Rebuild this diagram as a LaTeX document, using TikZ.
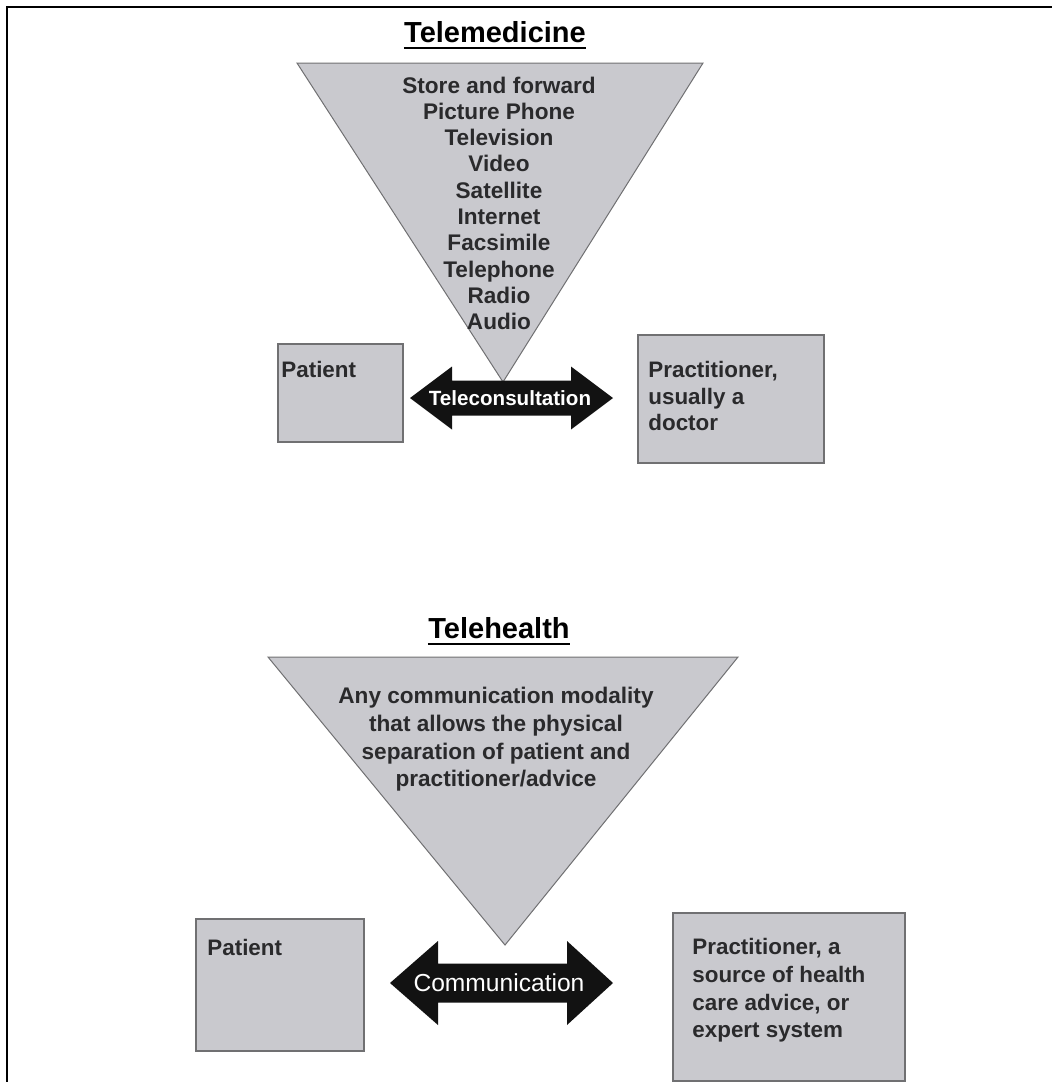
\documentclass[tikz,border=0pt]{standalone}
\usepackage{fontspec}
\setmainfont{Liberation Sans}
\usetikzlibrary{positioning}
\definecolor{panel}{RGB}{201,201,206}
\definecolor{edge}{RGB}{112,112,114}
\definecolor{ink}{RGB}{42,42,44}
\definecolor{arrowink}{RGB}{18,18,18}
\newcommand{\fsz}[2]{\fontsize{#1}{#2}\selectfont}
\tikzset{
  panelbox/.style={draw=edge, fill=panel, line width=0.9pt, inner sep=0pt, anchor=north west},
  wedge/.style={draw=edge, fill=panel, line width=0.5pt},
  boxtext/.style={inner sep=0pt, anchor=north west, align=left, text=ink, font=\bfseries\fsz{11.2}{13.3}},
  listtext/.style={inner sep=0pt, anchor=base, text=ink, font=\bfseries\fsz{11.3}{13.85}},
  heading/.style={inner sep=0pt, anchor=base, text=black, font=\bfseries\fsz{14.5}{17}},
  arrowtext/.style={inner sep=0pt, text=white},
  dblarrow/.style={fill=arrowink}
}

\begin{document}
\begin{tikzpicture}[x=0.5pt,y=-0.5pt]
\useasboundingbox (0,0) rectangle (1052,1082);
\draw[line width=1pt] (7,1082) -- (7,7) -- (1052,7);

% Telemedicine
\node[heading] (ttlA) at (495,42) {Telemedicine};
\draw[line width=0.9pt] ([yshift=-3pt]ttlA.base west) -- ([yshift=-3pt]ttlA.base east);
\coordinate (tAl) at (297,63);
\coordinate (tAr) at (703,63);
\coordinate (tAt) at (503,382);
\draw[wedge] (tAl) -- (tAr) -- (tAt) -- cycle;
\foreach \medium [count=\i from 0] in {Store and forward, Picture Phone, Television, Video, Satellite, Internet, Facsimile, Telephone, Radio, Audio}
  \node[listtext] (mod\i) at (499,{93+26.3*\i}) {\medium};

\node[panelbox, minimum width=62.5pt, minimum height=49pt] (patA) at (277,343) {};
\node[panelbox, minimum width=93pt, minimum height=64pt] (pracA) at (637,334) {};
\node[boxtext, anchor=base west] (patAtxt) at ([xshift=2pt,yshift=-17pt]patA.north west) {Patient};
\node[boxtext] (pracAtxt) at ([xshift=5.5pt,yshift=-13.5pt]pracA.north west) {Practitioner,\\usually a\\doctor};

\fill[dblarrow] (410,398) -- (452,366.5) -- (452,380.5) -- (571,380.5) -- (571,366.5) -- (613,398)
  -- (571,429.5) -- (571,415.5) -- (452,415.5) -- (452,429.5) -- cycle;
\node[arrowtext, font=\bfseries\fsz{10.3}{12}] (tcon) at (510,398) {Teleconsultation};

% Telehealth
\node[heading] (ttlB) at (499,638) {Telehealth};
\draw[line width=0.9pt] ([yshift=-3pt]ttlB.base west) -- ([yshift=-3pt]ttlB.base east);
\coordinate (tBl) at (268,657);
\coordinate (tBr) at (738,657);
\coordinate (tBt) at (505,945);
\draw[wedge] (tBl) -- (tBr) -- (tBt) -- cycle;
\node[listtext, anchor=north, align=center] (anymod) at (496,687)
  {Any communication modality\\that allows the physical\\separation of patient and\\practitioner/advice};

\node[panelbox, minimum width=84pt, minimum height=66pt] (patB) at (195,918) {};
\node[panelbox, minimum width=116pt, minimum height=84pt] (pracB) at (672,912) {};
\node[boxtext, anchor=base west] (patBtxt) at ([xshift=6pt,yshift=-18.5pt]patB.north west) {Patient};
\node[boxtext, font=\bfseries\fsz{11.2}{13.85}] (pracBtxt) at ([xshift=10pt,yshift=-13pt]pracB.north west)
  {Practitioner, a\\source of health\\care advice, or\\expert system};

\fill[dblarrow] (390,983) -- (438,941) -- (438,963.5) -- (567,963.5) -- (567,941) -- (613,983)
  -- (567,1025) -- (567,1002.5) -- (438,1002.5) -- (438,1025) -- cycle;
\node[arrowtext, font=\fsz{12.3}{14}] (comm) at (499,983) {Communication};
\end{tikzpicture}
\end{document}
